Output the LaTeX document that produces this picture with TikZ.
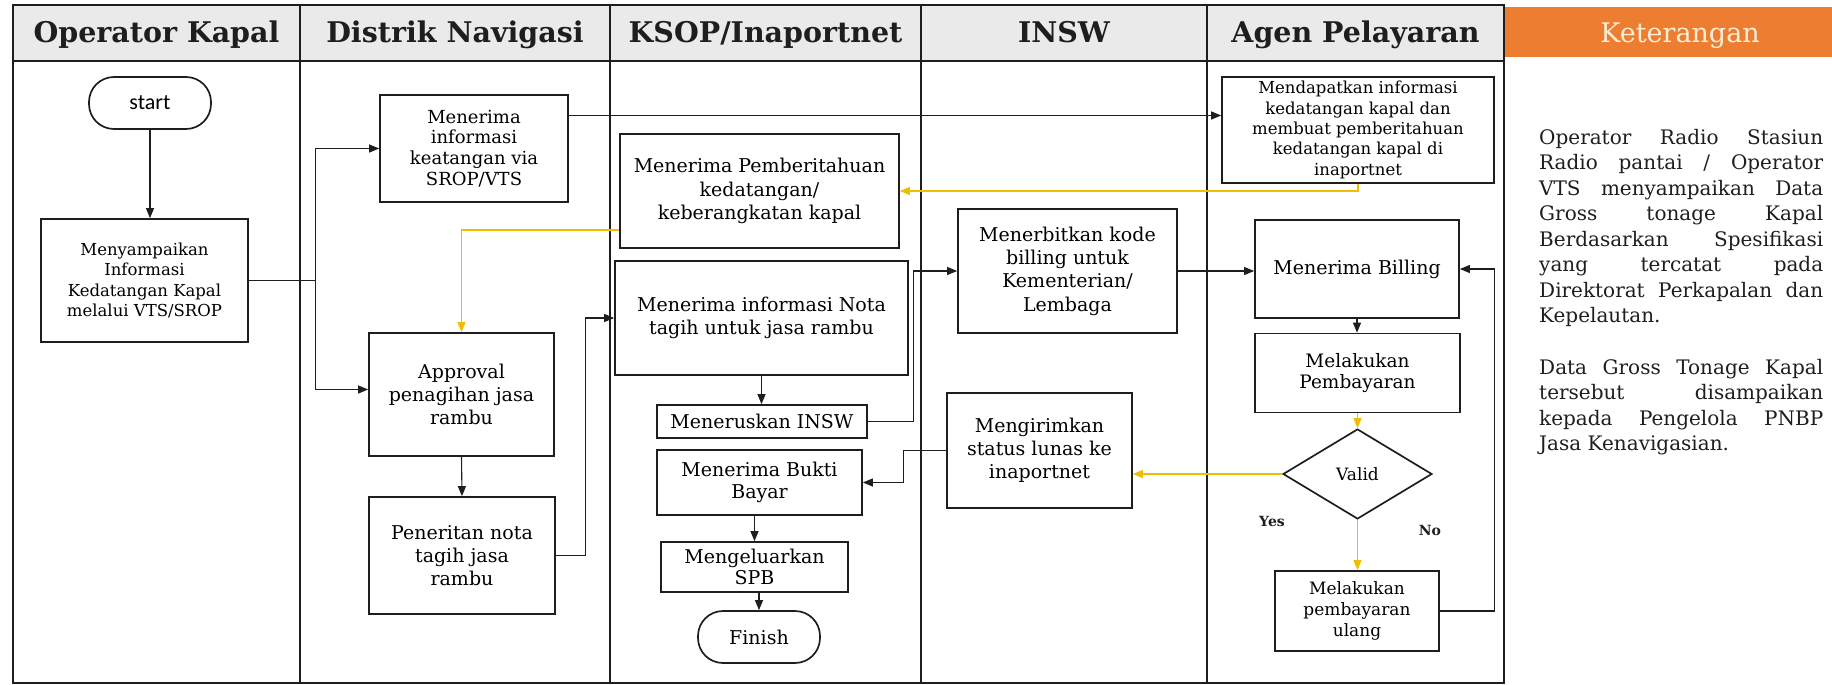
\documentclass[tikz,border=0pt]{standalone}
\usepackage{fontspec}
\setmainfont{DejaVu Serif}
\newfontfamily\startfont{Carlito}
\usetikzlibrary{arrows.meta,shapes.geometric,calc}
\definecolor{hdrgray}{RGB}{234,234,234}
\definecolor{orng}{RGB}{237,125,49}
\definecolor{cream}{RGB}{255,238,214}
\definecolor{ylw}{RGB}{240,190,0}
\definecolor{ink}{RGB}{30,30,30}
\newcommand\myfs[2]{\fontsize{#1}{#2}\selectfont}
\begin{document}
\begin{tikzpicture}[x=1pt,y=-1pt,
  box/.style={draw=ink, line width=1.7pt, align=center, inner sep=0pt, font=\myfs{18}{21.5}},
  term/.style={box, rounded corners=25pt},
  conn/.style={draw=ink, line width=1.1pt, -{Triangle[length=10pt,width=8pt]}},
  yconn/.style={conn, draw=ylw},
  hdr/.style={anchor=base, font=\myfs{28.5}{32}\bfseries, text=ink},
  lane/.style={draw=ink, line width=1.5pt},
  yn/.style={font=\myfs{14}{16}\bfseries, text=ink}]
\useasboundingbox (0,0) rectangle (1832,685);
% header
\fill[hdrgray] (13,5) rectangle (1504,61);
\fill[orng] (1505,7) rectangle (1832,57);
\draw[lane] (13,5) rectangle (1504,683);
\draw[lane] (13,61) -- (1504,61);
\foreach \xx in {300,610,921,1207} {\draw[lane] (\xx,5) -- (\xx,683);}
\node[hdr] (h1) at (156.5,43) {Operator Kapal};
\node[hdr] (h2) at (455,43) {Distrik Navigasi};
\node[hdr] (h3) at (765.5,43) {KSOP/Inaportnet};
\node[hdr] (h4) at (1064,43) {INSW};
\node[hdr] (h5) at (1355.5,43) {Agen Pelayaran};
\node[anchor=base, font=\myfs{27}{30}, text=cream] (h6) at (1680,43) {Keterangan};

% Operator Kapal
\node[term, minimum width=122pt, minimum height=52pt, font=\startfont\myfs{22}{24}] (start) at (150,103) {start};
\node[box, minimum width=207pt, minimum height=123pt, font=\myfs{16.5}{20.5}] (nyampai) at (144.5,280.5) {Menyampaikan\\Informasi\\Kedatangan Kapal\\melalui VTS/SROP};

% Distrik Navigasi
\node[box, minimum width=188pt, minimum height=107pt, font=\myfs{18}{20.7}] (terima) at (474,148.5) {Menerima\\informasi\\keatangan via\\SROP/VTS};
\node[box, minimum width=185pt, minimum height=123pt, font=\myfs{19}{22.7}] (approval) at (461.5,394.5) {Approval\\penagihan jasa\\rambu};
\node[box, minimum width=186pt, minimum height=117pt, font=\myfs{19}{22.7}] (peneritan) at (462,555.5) {Peneritan nota\\tagih jasa\\rambu};

% KSOP
\node[box, minimum width=279pt, minimum height=114pt, font=\myfs{19}{23.3}] (pemberitahuan) at (759.5,191) {Menerima Pemberitahuan\\kedatangan/\\keberangkatan kapal};
\node[box, minimum width=293pt, minimum height=114pt, font=\myfs{19}{23.3}] (nota) at (761.5,318) {Menerima informasi Nota\\tagih untuk jasa rambu};
\node[box, minimum width=210pt, minimum height=33pt, font=\myfs{19}{22}] (meneruskan) at (762,421.5) {Meneruskan INSW};
\node[box, minimum width=205pt, minimum height=65pt, font=\myfs{19}{22.5}] (bukti) at (759.5,482.5) {Menerima Bukti\\Bayar};
\node[box, minimum width=187pt, minimum height=50pt, font=\myfs{19}{21.7}] (spb) at (754.5,567) {Mengeluarkan\\SPB};
\node[term, minimum width=122pt, minimum height=52pt, font=\myfs{19}{22}] (finish) at (759,637) {Finish};

% INSW
\node[box, minimum width=219pt, minimum height=124pt, font=\myfs{19}{23.3}] (menerbitkan) at (1067.5,271) {Menerbitkan kode\\billing untuk\\Kementerian/\\Lembaga};
\node[box, minimum width=185pt, minimum height=115pt, font=\myfs{19}{23}] (mengirimkan) at (1039.5,450.5) {Mengirimkan\\status lunas ke\\inaportnet};

% Agen Pelayaran
\node[box, minimum width=272pt, minimum height=106pt, font=\myfs{16.5}{20.4}] (mendapatkan) at (1358,130) {Mendapatkan informasi\\kedatangan kapal dan\\membuat pemberitahuan\\kedatangan kapal di\\inaportnet};
\node[box, minimum width=204pt, minimum height=98pt, font=\myfs{19}{22}] (billing) at (1357,269) {Menerima Billing};
\node[box, minimum width=205pt, minimum height=79pt, font=\myfs{18.5}{21.7}] (pembayaran) at (1357.5,373) {Melakukan\\Pembayaran};
\node[draw=ink, line width=1.7pt, diamond, inner sep=0pt, minimum width=149pt, minimum height=90pt, font=\myfs{17}{19}] (valid) at (1357.5,474) {Valid};
\node[box, minimum width=164pt, minimum height=80pt, font=\myfs{17}{20.7}] (ulang) at (1357,611) {Melakukan\\pembayaran\\ulang};
\node[yn] (yes) at (1272,521) {Yes};
\node[yn] (no) at (1430,530) {No};

% Keterangan text
\node[anchor=north west, inner sep=0pt, align=left, font=\myfs{20}{25.5}, text=ink] (ket1) at (1539,129) {%
\makebox[284pt][s]{Operator Radio Stasiun}\\
\makebox[284pt][s]{Radio pantai / Operator}\\
\makebox[284pt][s]{VTS menyampaikan Data}\\
\makebox[284pt][s]{Gross tonage Kapal}\\
\makebox[284pt][s]{Berdasarkan Spesifikasi}\\
\makebox[284pt][s]{yang tercatat pada}\\
\makebox[284pt][s]{Direktorat Perkapalan dan}\\
Kepelautan.};
\node[anchor=north west, inner sep=0pt, align=left, font=\myfs{20}{25.5}, text=ink] (ket2) at (1539,359) {%
\makebox[284pt][s]{Data Gross Tonage Kapal}\\
\makebox[284pt][s]{tersebut disampaikan}\\
\makebox[284pt][s]{kepada Pengelola PNBP}\\
Jasa Kenavigasian.};

% connectors
\coordinate (split) at ($(nyampai.east)+(67,0)$);
\draw[conn] (start.south) -- (start.south |- nyampai.north);
\draw[conn,-] (nyampai.east) -- (split);
\draw[conn] (split) |- (terima.west);
\draw[conn] (split) |- ([yshift=5pt]approval.west);
\draw[conn] ([yshift=33pt]terima.east) -- ([yshift=33pt]terima.east -| mendapatkan.west);
\draw[yconn] (mendapatkan.south) |- (pemberitahuan.east);
\draw[yconn] ([yshift=-39pt]pemberitahuan.west) -| (approval.north);
\draw[conn] (approval.south) -- (peneritan.north);
\draw[conn] (peneritan.east) -- ++(30,0) |- (nota.west);
\draw[conn] (nota.south) -- (nota.south |- meneruskan.north);
\draw[conn] (meneruskan.east) -- ++(46,0) |- (menerbitkan.west);
\draw[conn] (menerbitkan.east) -- (menerbitkan.east -| billing.west);
\draw[conn] (billing.south) -- (billing.south |- pembayaran.north);
\draw[yconn] (pembayaran.south) -- (pembayaran.south |- valid.north);
\draw[yconn] (valid.west) -- (valid.west -| mengirimkan.east);
\draw[yconn] (valid.south) -- (valid.south |- ulang.north);
\draw[conn] (ulang.east) -- ++(55,0) |- (billing.east);
\draw[conn] (mengirimkan.west) -- ++(-43,0) |- (bukti.east);
\draw[conn] (spb.north |- bukti.south) -- (spb.north);
\draw[conn] (finish.north |- spb.south) -- (finish.north);
\end{tikzpicture}
\end{document}
